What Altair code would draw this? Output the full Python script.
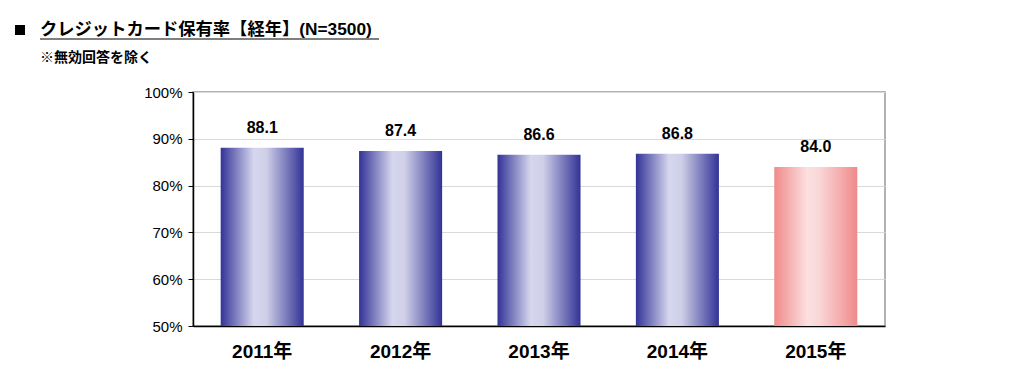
import altair as alt
import pandas as pd

years = ["2011年", "2012年", "2013年", "2014年", "2015年"]
rates = [88.1, 87.4, 86.6, 86.8, 84.0]
highlight = [False, False, False, False, True]
title_text = "クレジットカード保有率【経年】(N=3500)"
note_text = "※無効回答を除く"
y_ticks = [50, 60, 70, 80, 90, 100]

df = pd.DataFrame({"year": years, "rate": rates, "hl": highlight,
                   "label": [f"{v:.1f}" for v in rates]})

FONT = "Liberation Sans, Arial, Noto Sans CJK JP"
JFONT = "Liberation Sans, Noto Sans CJK JP"

blue_grad = alt.Gradient(
    gradient="linear", x1=0, x2=1, y1=0, y2=0,
    stops=[alt.GradientStop(color="#323396", offset=0),
           alt.GradientStop(color="#d6d6ee", offset=0.4),
           alt.GradientStop(color="#cfcfe8", offset=0.55),
           alt.GradientStop(color="#323396", offset=1)])
pink_grad = alt.Gradient(
    gradient="linear", x1=0, x2=1, y1=0, y2=0,
    stops=[alt.GradientStop(color="#f08a8a", offset=0),
           alt.GradientStop(color="#fce0e0", offset=0.4),
           alt.GradientStop(color="#f9d6d6", offset=0.55),
           alt.GradientStop(color="#f08a8a", offset=1)])

x_enc = alt.X("year:N", sort=years, title=None,
              scale=alt.Scale(paddingInner=0.4, paddingOuter=0.2),
              axis=alt.Axis(labelAngle=0, ticks=False, domain=True, domainColor="#000",
                            domainWidth=1.5, labelFontSize=19, labelFontWeight="bold",
                            labelFont=JFONT, labelColor="#000", labelPadding=16))
y_enc = alt.Y("rate:Q", title=None,
              scale=alt.Scale(domain=[50, 100], zero=False, nice=False),
              axis=alt.Axis(values=y_ticks, labelExpr="datum.value + '%'",
                            grid=True, gridColor="#d9d9d9", domainColor="#000",
                            domainWidth=1.5, tickColor="#000", tickSize=5,
                            labelFontSize=15, labelFont=FONT, labelColor="#000",
                            labelPadding=6))

base = alt.Chart(df)
blue = base.transform_filter("!datum.hl").mark_bar(color=blue_grad).encode(
    x=x_enc, y=y_enc, y2=alt.datum(50))
pink = base.transform_filter("datum.hl").mark_bar(color=pink_grad).encode(
    x=x_enc, y=y_enc, y2=alt.datum(50))
labels = base.mark_text(baseline="bottom", dy=-12, fontSize=16, fontWeight="bold",
                        font=FONT, color="#000").encode(
    x=alt.X("year:N", sort=years), y="rate:Q", text="label:N")

tdf = pd.DataFrame({"t": [title_text]})
ndf = pd.DataFrame({"t": [note_text]})
sq = alt.Chart(tdf).mark_square(size=100, color="#000", opacity=1).encode(
    x=alt.value(-173), y=alt.value(-62))
title = alt.Chart(tdf).mark_text(
    align="left", baseline="middle", fontSize=17.3, fontWeight="bold", font=JFONT,
    color="#000").encode(x=alt.value(-153), y=alt.value(-62), text="t:N")
underline = alt.Chart(tdf).mark_rule(color="#000", strokeWidth=1.2).encode(
    x=alt.value(-153), x2=alt.value(186), y=alt.value(-53))
note = alt.Chart(ndf).mark_text(
    align="left", baseline="middle", fontSize=14, fontWeight="bold", font=JFONT,
    color="#000").encode(x=alt.value(-153), y=alt.value(-34), text="t:N")

chart = alt.layer(blue, pink, labels, sq, title, underline, note).properties(
    width=692, height=234,
    autosize=alt.AutoSizeParams(type="none"),
    padding={"left": 185, "top": 84, "right": 130, "bottom": 55},
    background="#ffffff",
).configure_view(stroke="#999999", strokeWidth=1.5)

chart.save("out.html", embed_options={"renderer": "svg", "actions": False})
